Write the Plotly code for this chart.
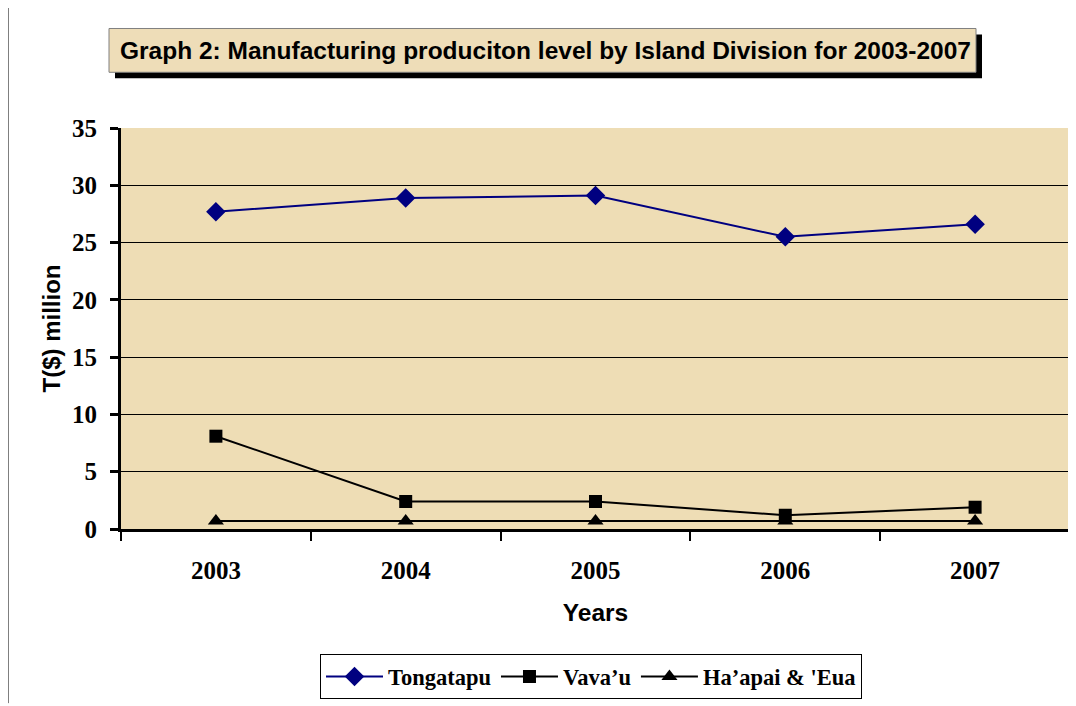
import plotly.graph_objects as go

years = ["2003", "2004", "2005", "2006", "2007"]
tongatapu = [27.7, 28.9, 29.1, 25.5, 26.6]
vavau = [8.1, 2.4, 2.4, 1.2, 1.9]
haapai_eua = [0.7, 0.7, 0.7, 0.7, 0.7]

# the page puts the figure 8px in from the window corner
OFF = 8
W, H = 1076 - OFF, 706 - OFF
L, R, T, B = 121 - OFF, 6, 128 - OFF, 175
PW, PH = W - L - R, H - T - B


def px(x):
    # window pixel -> paper fraction
    return (x - OFF - L) / PW


def py(y):
    return (H - B - (y - OFF)) / PH


SERIF = "Liberation Serif, Times New Roman, serif"
SANS = "Liberation Sans, Arial, sans-serif"

fig = go.Figure()
fig.add_trace(go.Scatter(
    x=years, y=tongatapu, name="Tongatapu", mode="lines+markers",
    line={"color": "#000080", "width": 2},
    marker={"symbol": "diamond", "size": 15, "color": "#000080"},
))
fig.add_trace(go.Scatter(
    x=years, y=vavau, name="Vava\u2019u", mode="lines+markers",
    line={"color": "#000000", "width": 2},
    marker={"symbol": "square", "size": 13, "color": "#000000"},
))
fig.add_trace(go.Scatter(
    x=years, y=haapai_eua, name="Ha\u2019apai & 'Eua", mode="lines+markers",
    line={"color": "#000000", "width": 2},
    marker={"symbol": "triangle-up", "size": 14, "color": "#000000"},
))

# title box with drop shadow, and the chart's left border
fig.add_shape(type="rect", xref="paper", yref="paper", layer="below",
              x0=px(115), x1=px(982), y0=py(78), y1=py(34),
              fillcolor="#000000", line={"width": 0})
fig.add_shape(type="rect", xref="paper", yref="paper", layer="below",
              x0=px(109), x1=px(976), y0=py(72), y1=py(28),
              fillcolor="#EEDDB8", line={"color": "#808080", "width": 1})
fig.add_annotation(xref="paper", yref="paper", x=px(545), y=py(50),
                   xanchor="center", yanchor="middle",
                   text="<b>Graph 2: Manufacturing produciton level by Island Division for 2003-2007</b>",
                   showarrow=False, font={"family": SANS, "size": 24.5, "color": "#000000"})
fig.add_shape(type="line", xref="paper", yref="paper",
              x0=px(8), x1=px(8), y0=py(0), y1=py(706),
              line={"color": "#000000", "width": 1})

fig.update_layout(
    width=W, height=H,
    margin={"l": L, "r": R, "t": T, "b": B},
    paper_bgcolor="#FFFFFF",
    plot_bgcolor="#EEDDB5",
    showlegend=True,
    legend={
        "orientation": "h", "x": px(320), "xanchor": "left",
        "y": py(657), "yanchor": "top",
        "bordercolor": "#000000", "borderwidth": 1, "bgcolor": "#FFFFFF",
        "font": {"family": SERIF, "size": 22.5, "color": "#000000", "weight": "bold"},
        "itemwidth": 57, "tracegroupgap": 0,
    },
)
fig.update_xaxes(
    type="category", range=[-0.5, 4.5],
    showline=True, linecolor="#000000", linewidth=3,
    ticks="outside", tickson="boundaries", ticklen=9, tickwidth=2, tickcolor="#000000",
    ticklabelstandoff=17,
    showgrid=False,
    tickfont={"family": SERIF, "size": 25, "color": "#000000", "weight": "bold"},
    title={"text": "<b>Years</b>", "font": {"family": SANS, "size": 24.5, "color": "#000000"},
           "standoff": 21},
)
fig.update_yaxes(
    range=[0, 35], dtick=5,
    showline=True, linecolor="#000000", linewidth=3,
    ticks="outside", ticklen=8, tickwidth=3, tickcolor="#000000",
    ticklabelstandoff=8,
    showgrid=True, gridcolor="#000000", gridwidth=1,
    zeroline=False,
    tickfont={"family": SERIF, "size": 25, "color": "#000000", "weight": "bold"},
    title={"text": "<b>T($) million</b>", "font": {"family": SANS, "size": 24, "color": "#000000"},
           "standoff": 5},
)

fig.write_html("out.html")
